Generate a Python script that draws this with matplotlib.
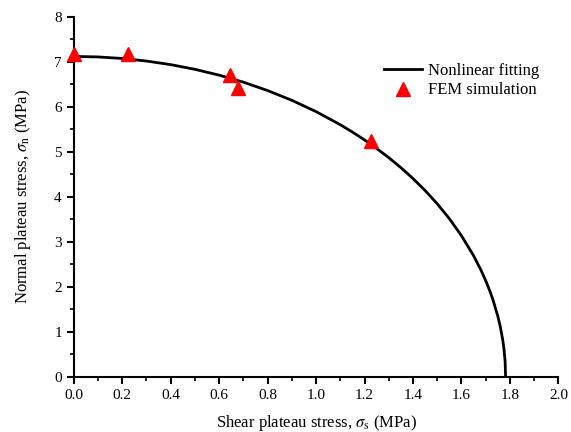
import matplotlib.pyplot as plt
import numpy as np

plt.rcParams['font.family'] = 'Liberation Serif'
plt.rcParams['mathtext.fontset'] = 'stix'

# nonlinear fitting curve
fit_x = [0.0, 0.1, 0.2, 0.3, 0.4, 0.5, 0.6, 0.7, 0.8, 0.9, 1.0, 1.1, 1.15,
         1.2, 1.25, 1.3, 1.35, 1.4, 1.45, 1.5, 1.55, 1.6, 1.65, 1.68, 1.7,
         1.72, 1.73, 1.75, 1.76, 1.77, 1.775, 1.78, 1.782]
fit_y = [7.12, 7.109, 7.075, 7.018, 6.938, 6.834, 6.704, 6.548, 6.362,
         6.145, 5.893, 5.602, 5.439, 5.264, 5.074, 4.870, 4.648, 4.405,
         4.139, 3.844, 3.513, 3.134, 2.690, 2.374, 2.135, 1.862, 1.707,
         1.343, 1.116, 0.825, 0.630, 0.337, 0.0]

# FEM simulation points
fem_x = [0.0, 0.223, 0.645, 0.676, 1.227]
fem_y = [7.17, 7.17, 6.71, 6.41, 5.23]

fig = plt.figure(figsize=(5.71, 4.32), dpi=100)
ax = fig.add_axes([0.129, 0.128, 0.849, 0.833])

ax.plot(fit_x, fit_y, color='black', lw=2, label='Nonlinear fitting')
ax.plot(fem_x, fem_y, '^', color='red', ms=10, label='FEM simulation',
        clip_on=False, zorder=3)

ax.set_xlim(0, 2.0)
ax.set_ylim(0, 8)
ax.set_xticks(np.arange(0, 2.01, 0.2))
ax.set_xticks(np.arange(0.1, 2.0, 0.2), minor=True)
ax.set_yticks(np.arange(0, 9, 1))
ax.set_yticks(np.arange(0.5, 8, 1), minor=True)
ax.xaxis.set_major_formatter(plt.FormatStrFormatter('%.1f'))

for s in ['top', 'right']:
    ax.spines[s].set_visible(False)
for s in ['left', 'bottom']:
    ax.spines[s].set_linewidth(1.5)
ax.tick_params(which='major', direction='out', length=5, width=1.5, labelsize=11)
ax.tick_params(which='minor', direction='out', length=3, width=1.2)

ax.set_xlabel(r'Shear plateau stress, $\sigma_{\rm s}$ (MPa)', fontsize=12)
ax.set_ylabel(r'Normal plateau stress, $\sigma_{\rm n}$ (MPa)', fontsize=12)
ax.xaxis.set_label_coords(0.5, -0.1)
ax.yaxis.set_label_coords(-0.084, 0.5)

ax.legend(loc='upper left', bbox_to_anchor=(0.627, 0.89), frameon=False,
          fontsize=12, handlelength=2.27, handletextpad=0.35,
          labelspacing=0.2, borderaxespad=0)

fig.savefig('out.png', dpi=100)
